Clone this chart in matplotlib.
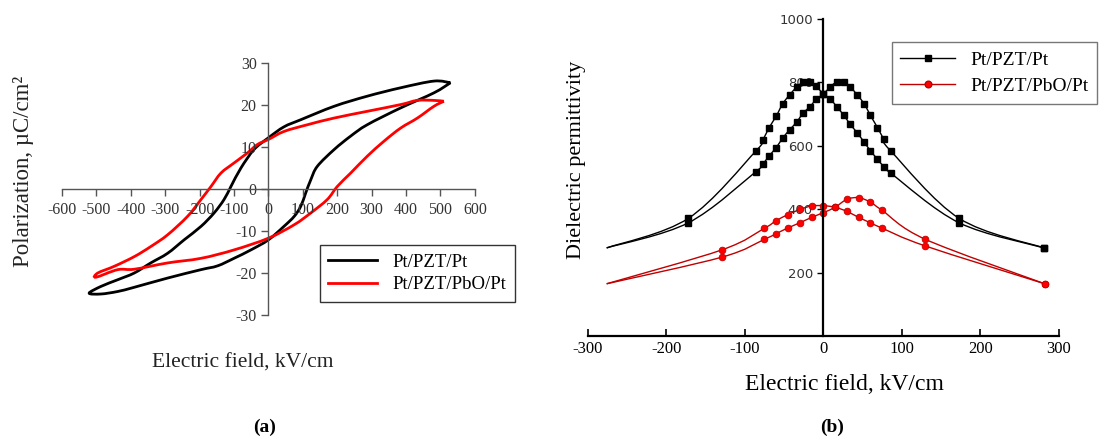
import numpy as np
import matplotlib
matplotlib.use("Agg")
import matplotlib.pyplot as plt
from matplotlib.path import Path
from matplotlib.patches import PathPatch
from matplotlib.lines import Line2D

plt.rcParams["axes.unicode_minus"] = False

# ---- (a) hysteresis loops ----
pzt_x = [529, 481, 384, 287, 191, 94, 45, 0, -42, -80, -109, -129, -158, -196, -245, -293, -342,
         -390, -438, -487, -521, -487, -438, -390, -293, -196, -148, -100, -51, 0, 45, 75, 94,
         108, 123, 142, 191, 239, 287, 384, 481, 529]
pzt_y = [25.3, 25.7, 24.1, 22.1, 19.7, 16.5, 14.8, 12.2, 9.4, 5.0, 0.6, -2.5, -5.7, -8.9, -12.1,
         -15.3, -17.6, -20.0, -21.6, -23.2, -24.8, -25.0, -24.4, -23.4, -21.2, -19.2, -18.3,
         -16.5, -14.5, -12.1, -8.9, -6.5, -4.1, -1.0, 2.2, 5.4, 9.4, 12.6, 15.3, 19.3, 22.9, 25.3]
pbo_x = [510, 481, 433, 384, 287, 191, 113, 45, 0, -32, -61, -100, -138, -167, -196, -235, -293,
         -342, -390, -448, -496, -501, -438, -390, -293, -196, -100, 0, 75, 123, 171, 200, 239,
         287, 336, 384, 433, 481, 510]
pbo_y = [20.9, 21.1, 21.1, 20.1, 18.5, 16.9, 15.3, 13.7, 11.8, 10.6, 8.6, 6.2, 3.8, 0.6, -2.5,
         -6.5, -10.9, -13.7, -16.1, -18.4, -20.0, -21.0, -19.2, -19.1, -17.6, -16.5, -14.5,
         -11.7, -8.5, -5.7, -2.5, 0.6, 3.8, 7.8, 11.4, 14.5, 16.9, 19.7, 20.9]

# ---- (b) permittivity butterfly curves ----
sq_x = [-276, -172, -86, -77, -69, -60, -52, -43, -34, -26, -17, -9, 0,
        9, 17, 26, 34, 43, 52, 60, 69, 77, 86, 173, 281]
sq_up = [279, 372, 584, 619, 658, 694, 732, 761, 785, 801, 803, 789, 763,
         747, 724, 697, 669, 642, 612, 585, 558, 535, 514, 358, 279]
sq_dn = [279, 358, 519, 543, 569, 595, 624, 651, 675, 703, 724, 747, 763,
         787, 801, 801, 787, 761, 733, 696, 658, 621, 584, 372, 279]
ci_x = [-276, -129, -75, -60, -45, -30, -15, 0, 15, 30, 45, 60, 75, 130, 282]
ci_up = [166, 273, 341, 365, 384, 400, 411, 412, 407, 394, 375, 358, 341, 285, 166]
ci_dn = [166, 250, 306, 324, 342, 358, 375, 390, 407, 432, 437, 423, 397, 306, 166]

serif = "Liberation Serif"


def smooth_path(x, y):
    # Catmull-Rom through the points, drawn as bezier segments
    p = np.column_stack([x, y]).astype(float)
    verts = [p[0]]
    codes = [Path.MOVETO]
    n = len(p)
    for i in range(n - 1):
        p0 = p[i - 1] if i > 0 else p[i]
        p3 = p[i + 2] if i + 2 < n else p[i + 1]
        c1 = p[i] + (p[i + 1] - p0) / 6.0
        c2 = p[i + 1] - (p3 - p[i]) / 6.0
        verts += [c1, c2, p[i + 1]]
        codes += [Path.CURVE4] * 3
    return Path(verts, codes)


fig = plt.figure(figsize=(11.07, 4.41), dpi=100)

# ---------------- panel (a) ----------------
ax = fig.add_axes([0.056, 0.2857, 0.373, 0.5714])
ax.add_patch(PathPatch(smooth_path(pzt_x, pzt_y), fill=False, edgecolor="black", lw=2.0))
ax.add_patch(PathPatch(smooth_path(pbo_x, pbo_y), fill=False, edgecolor="#ff0000", lw=2.0))
ax.set_xlim(-600, 600)
ax.set_ylim(-30, 30)
ax.spines["left"].set_position(("data", 0))
ax.spines["bottom"].set_position(("data", 0))
ax.spines["top"].set_visible(False)
ax.spines["right"].set_visible(False)
for s in ["left", "bottom"]:
    ax.spines[s].set_color("#555555")
    ax.spines[s].set_linewidth(1.0)
ax.set_xticks(range(-600, 601, 100))
ax.set_yticks(range(-30, 31, 10))
ax.tick_params(direction="out", length=5, width=1.0, color="#555555",
               labelsize=11.5, labelcolor="#333333")
ax.tick_params(axis="x", pad=4)
for t in ax.get_xticklabels() + ax.get_yticklabels():
    t.set_family(serif)
ax.patch.set_alpha(0)
h_a = [Line2D([], [], color="black", lw=2.0), Line2D([], [], color="#ff0000", lw=2.0)]
leg = ax.legend(h_a, ["Pt/PZT/Pt", "Pt/PZT/PbO/Pt"], loc="upper left",
                bbox_to_anchor=(0.625, 0.278), prop={"family": serif, "size": 13.5},
                frameon=True, fancybox=False, borderpad=0.45, handlelength=2.6,
                labelspacing=0.3, borderaxespad=0)
leg.get_frame().set_edgecolor("black")
leg.get_frame().set_linewidth(1.0)

fig.text(0.021, 0.612, "Polarization, \u00b5C/cm\u00b2", rotation=90, ha="center", va="center",
         family=serif, fontsize=16.5, color="#222222")
fig.text(0.219, 0.177, "Electric field, kV/cm", ha="center", va="center",
         family=serif, fontsize=15.5, color="#222222")
fig.text(0.239, 0.032, "(a)", ha="center", va="center", family=serif, fontsize=14,
         weight="bold")

# ---------------- panel (b) ----------------
bx = fig.add_axes([0.531, 0.237, 0.4255, 0.72])
for yy in (sq_up, sq_dn):
    bx.add_patch(PathPatch(smooth_path(sq_x, yy), fill=False, edgecolor="black", lw=1.0))
    bx.plot(sq_x[1:], yy[1:], ls="none", marker="s", ms=4.6, color="black")
for yy in (ci_up, ci_dn):
    bx.add_patch(PathPatch(smooth_path(ci_x, yy), fill=False, edgecolor="#c00000", lw=1.0))
    bx.plot(ci_x[1:], yy[1:], ls="none", marker="o", ms=4.8, color="#ff0000",
            markeredgecolor="#c00000", markeredgewidth=0.6)
bx.set_xlim(-300, 300)
bx.set_ylim(0, 1000)
bx.spines["left"].set_position(("data", 0))
bx.spines["top"].set_visible(False)
bx.spines["right"].set_visible(False)
bx.spines["left"].set_linewidth(1.6)
bx.spines["bottom"].set_linewidth(1.6)
bx.set_xticks(range(-300, 301, 100))
bx.set_yticks(range(200, 1001, 200))
bx.tick_params(axis="x", direction="in", length=5, width=1.2, labelsize=12)
bx.tick_params(axis="y", direction="out", length=4, width=1.0, labelsize=9.5,
               labelcolor="#333333")
for t in bx.get_xticklabels():
    t.set_family(serif)
bx.patch.set_alpha(0)
h_b = [Line2D([], [], color="black", lw=1.0, marker="s", ms=4.6),
       Line2D([], [], color="#c00000", lw=1.0, marker="o", ms=4.8, markerfacecolor="#ff0000")]
leg_b = bx.legend(h_b, ["Pt/PZT/Pt", "Pt/PZT/PbO/Pt"], loc="upper left",
                  bbox_to_anchor=(0.645, 0.927), prop={"family": serif, "size": 14},
                  frameon=True, fancybox=False, borderpad=0.45, handlelength=2.8,
                  labelspacing=0.45, borderaxespad=0)
leg_b.get_frame().set_edgecolor("#555555")
leg_b.get_frame().set_linewidth(1.0)

fig.text(0.521, 0.637, "Dielectric permittivity", rotation=90, ha="center", va="center",
         family=serif, fontsize=16)
fig.text(0.763, 0.127, "Electric field, kV/cm", ha="center", va="center",
         family=serif, fontsize=17)
fig.text(0.752, 0.032, "(b)", ha="center", va="center", family=serif, fontsize=14,
         weight="bold")

fig.savefig("out.png", dpi=100)
